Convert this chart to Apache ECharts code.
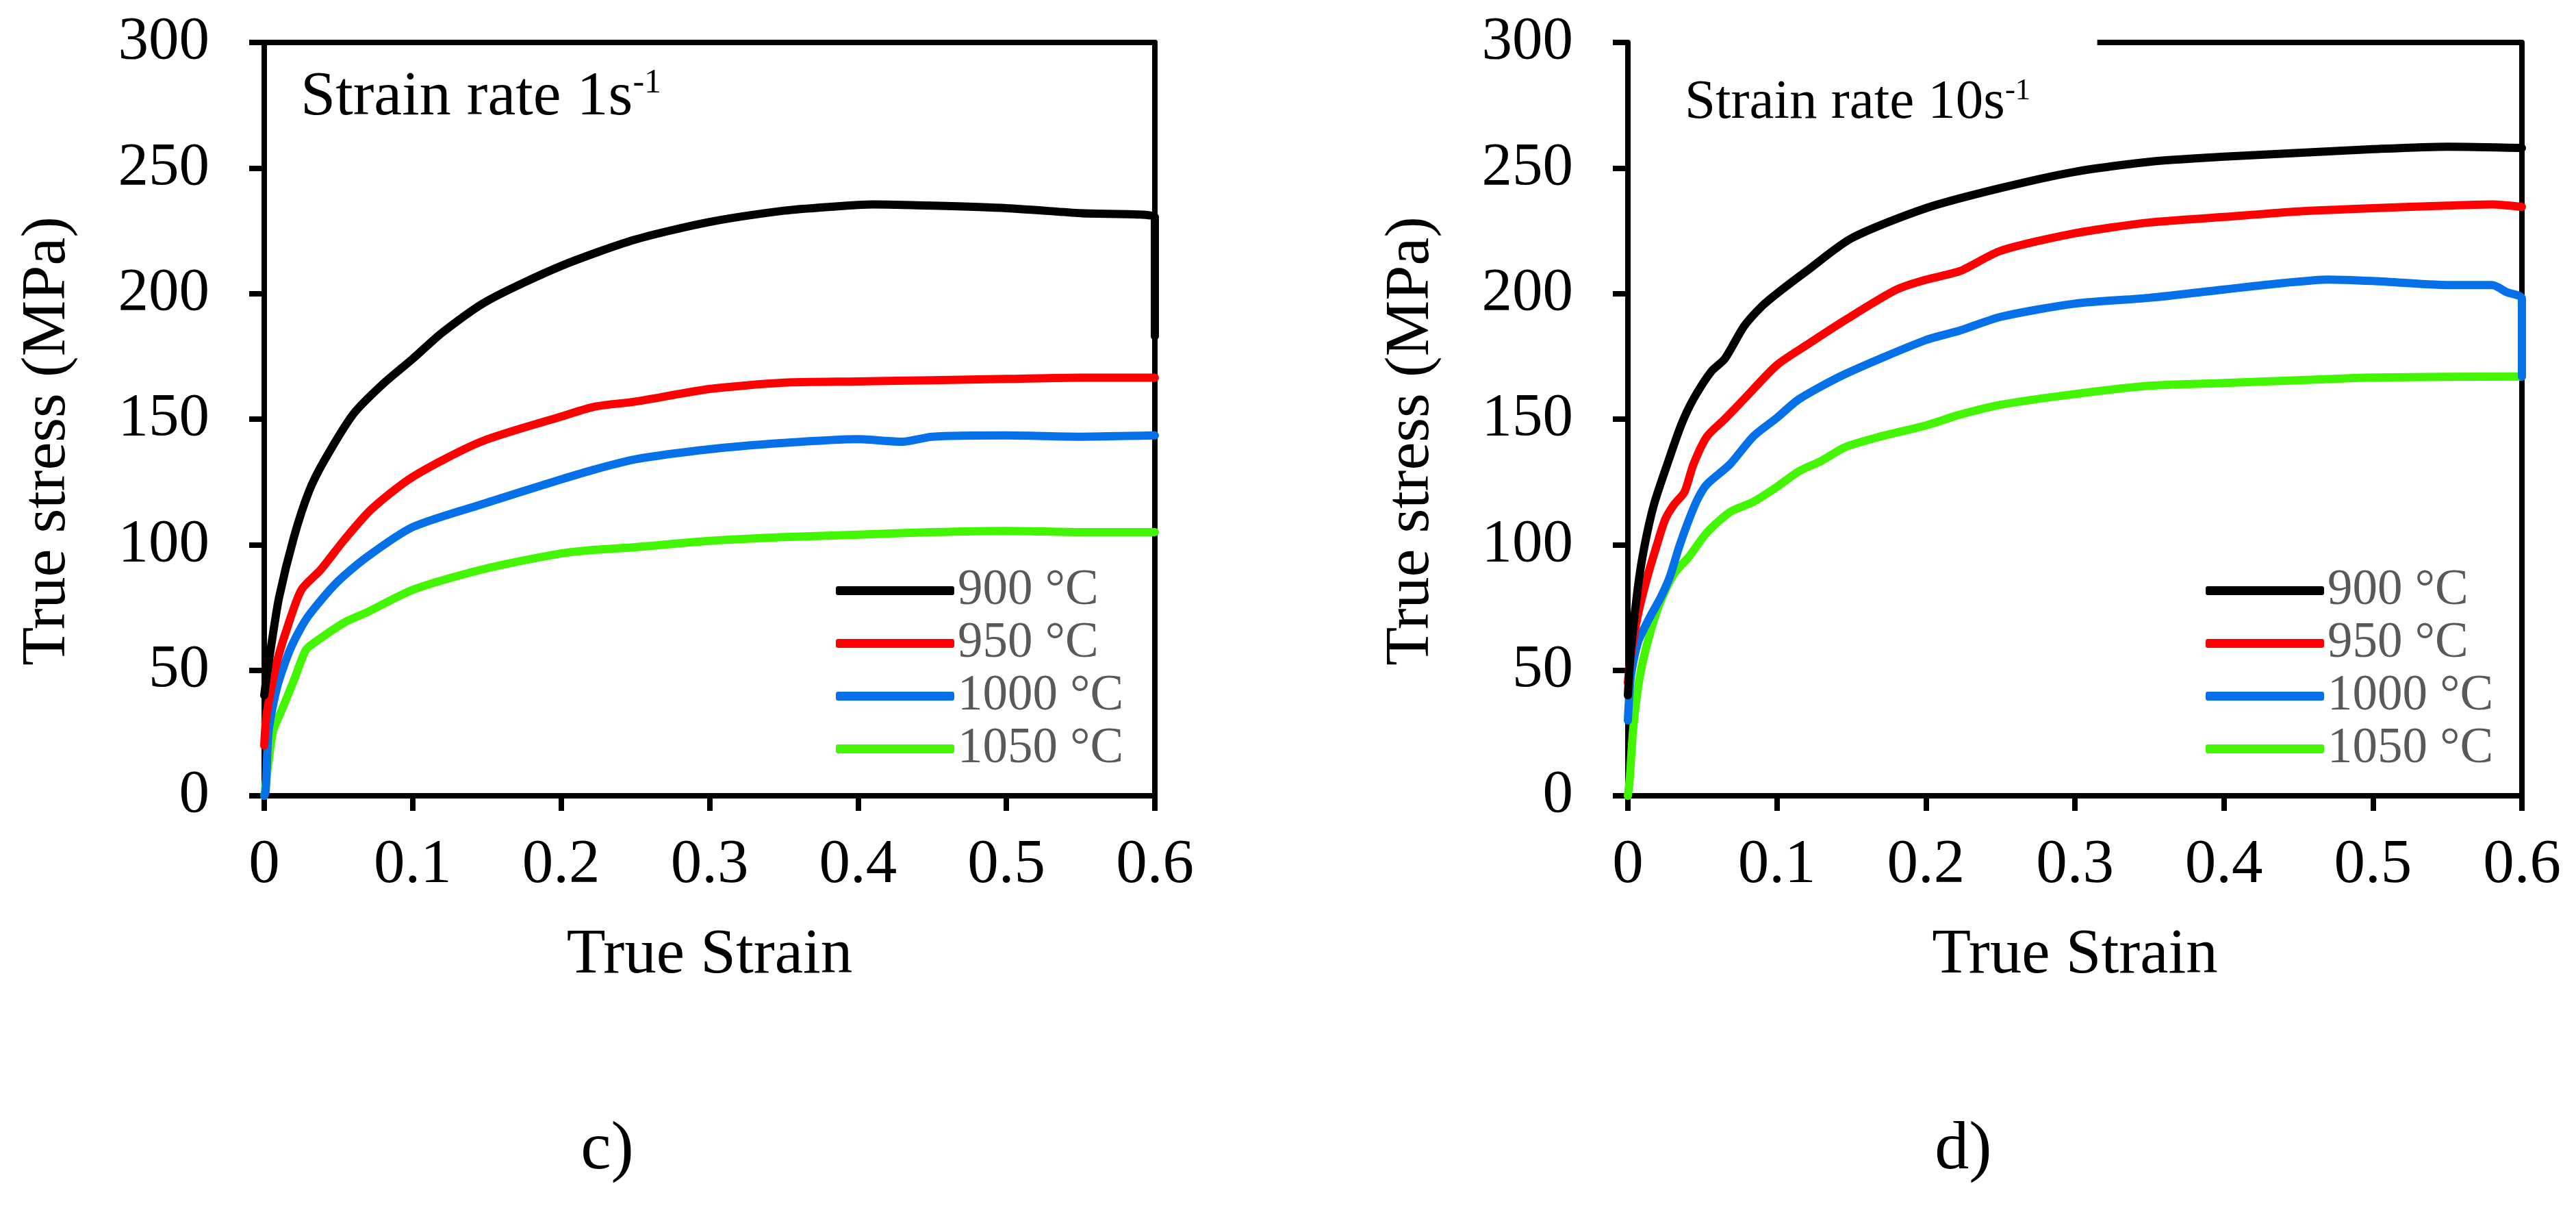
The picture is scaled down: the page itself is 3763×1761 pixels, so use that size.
<!DOCTYPE html>
<html>
<head>
<meta charset="utf-8">
<script src="https://cdn.jsdelivr.net/npm/echarts@6/dist/echarts.min.js"></script>
<style>
  html, body { margin: 0; padding: 0; background: #fff; }
  #chart { width: 3763px; height: 1761px; }
</style>
</head>
<body>
<div id="chart"></div>
<script>
// 1. data  (strain, stress MPa)
var legendNames = ['900 °C', '950 °C', '1000 °C', '1050 °C'];
var xTicks = [0, 0.1, 0.2, 0.3, 0.4, 0.5, 0.6];
var yTicks = [0, 50, 100, 150, 200, 250, 300];

// c) strain rate 1 s-1
var c900Strain = [0, 0.0015, 0.005, 0.01, 0.02, 0.03, 0.04, 0.06, 0.08, 0.1, 0.12, 0.15, 0.2, 0.25, 0.3, 0.35, 0.38, 0.41, 0.45, 0.5, 0.55, 0.6, 0.6];
var c900Stress = [40, 47, 61, 79, 103, 121, 133, 152, 164, 174, 184.5, 197, 211, 221.5, 228.5, 233, 234.5, 235.5, 235, 234, 232, 230.5, 183];
var c950Strain = [0, 0.0015, 0.008, 0.015, 0.025, 0.038, 0.054, 0.072, 0.1, 0.146, 0.2, 0.223, 0.25, 0.3, 0.35, 0.4, 0.45, 0.5, 0.55, 0.6];
var c950Stress = [20, 32, 52, 66, 82, 90, 102, 114, 127, 141, 151, 155, 157, 162, 164.5, 165, 165.5, 166, 166.5, 166.5];
var c1000Strain = [0, 0.001, 0.003, 0.009, 0.018, 0.029, 0.049, 0.069, 0.1, 0.146, 0.2, 0.223, 0.25, 0.3, 0.35, 0.4, 0.43, 0.45, 0.5, 0.55, 0.6];
var c1000Stress = [0, 2, 26, 44, 59, 71, 85, 95, 107, 116, 126, 130, 134, 138, 140.5, 142, 141, 143, 143.5, 143, 143.5];
var c1050Strain = [0, 0.001, 0.003, 0.006, 0.011, 0.02, 0.028, 0.035, 0.054, 0.069, 0.1, 0.146, 0.2, 0.223, 0.25, 0.3, 0.35, 0.4, 0.45, 0.5, 0.55, 0.6];
var c1050Stress = [0, 4.5, 14, 26, 33, 46, 58, 61.5, 69, 73, 82, 90, 96.5, 98, 99, 101.5, 103, 104, 105, 105.5, 105, 105];

// d) strain rate 10 s-1
var d900Strain = [0, 0.002, 0.0067, 0.011, 0.0175, 0.027, 0.036, 0.044, 0.056, 0.065, 0.078, 0.09, 0.1, 0.12, 0.15, 0.2, 0.25, 0.3, 0.35, 0.4, 0.45, 0.5, 0.55, 0.6];
var d900Stress = [40, 58, 83, 99, 116, 133, 148, 158, 169, 174, 187, 195, 200, 209, 222, 234, 242, 248.5, 252.5, 254.5, 256, 257.5, 258.5, 258];
var d950Strain = [0, 0.002, 0.0067, 0.013, 0.019, 0.025, 0.031, 0.038, 0.044, 0.053, 0.065, 0.078, 0.1, 0.12, 0.146, 0.18, 0.2, 0.223, 0.25, 0.3, 0.35, 0.4, 0.45, 0.5, 0.55, 0.58, 0.6];
var d950Stress = [45, 56, 72, 87, 99, 110, 116, 121, 132, 143, 150, 158, 171.5, 179.5, 189.5, 201.5, 205.5, 209, 217, 224, 228.3, 230.5, 232.7, 234, 235, 235.5, 234.5];
var d1000Strain = [0, 0.002, 0.0067, 0.0144, 0.022, 0.028, 0.0345, 0.041, 0.047, 0.053, 0.0685, 0.084, 0.1, 0.115, 0.146, 0.2, 0.223, 0.25, 0.3, 0.35, 0.4, 0.44, 0.47, 0.5, 0.55, 0.58, 0.59, 0.6, 0.6];
var d1000Stress = [30, 47.5, 61, 70.7, 79, 87, 99.3, 110, 118.4, 124, 132, 143, 150.5, 158, 168, 181.5, 185.3, 190.7, 196, 198.3, 201.6, 204.2, 205.6, 205, 203.4, 203.4, 200.5, 198, 167];
var d1050Strain = [0, 0.0012, 0.0036, 0.008, 0.0144, 0.022, 0.031, 0.041, 0.053, 0.0685, 0.084, 0.1, 0.115, 0.13, 0.146, 0.169, 0.2, 0.223, 0.25, 0.3, 0.35, 0.4, 0.45, 0.5, 0.6];
var d1050Stress = [0, 6.5, 27, 47.5, 63.8, 77.5, 88.4, 95.2, 104.8, 113, 117, 123, 129.3, 133.4, 138.9, 143, 147.5, 151.8, 155.7, 160, 163.3, 164.4, 165.5, 166.6, 167];

// partial top frame of panel d)
var dTopFrameStrain = [0.315, 0.6];

var colors = ['#000000', '#ff0000', '#0670e8', '#42f500'];
var font = "'Liberation Serif', 'Times New Roman', serif";

function pairs(xs, ys) {
  var out = [];
  for (var i = 0; i < xs.length; i++) {
    out.push([xs[i], ys[i]]);
  }
  return out;
}

// 2. axes
function xAxisFor(grid) {
  return {
    type: 'value', gridIndex: grid, min: xTicks[0], max: xTicks[xTicks.length - 1], interval: 0.1,
    axisLine: { show: true, lineStyle: { color: '#000', width: 8 } },
    axisTick: { show: true, inside: false, length: 22, lineStyle: { color: '#000', width: 8 } },
    axisLabel: {
      margin: 57, color: '#000', fontFamily: font, fontSize: 91,
      formatter: function (v) { return String(parseFloat(v.toFixed(1))); }
    },
    splitLine: { show: false },
    name: 'True Strain', nameLocation: 'middle', nameGap: 187,
    nameTextStyle: { color: '#000', fontFamily: font, fontSize: 93 }
  };
}
function yAxisFor(grid) {
  return {
    type: 'value', gridIndex: grid, min: yTicks[0], max: yTicks[yTicks.length - 1], interval: 50,
    axisLine: { show: true, lineStyle: { color: '#000', width: 8 } },
    axisTick: { show: true, inside: false, length: 22, lineStyle: { color: '#000', width: 8 } },
    axisLabel: { margin: 80, color: '#000', fontFamily: font, fontSize: 89 },
    splitLine: { show: false },
    name: 'True stress (MPa)', nameLocation: 'middle', nameGap: 270,
    // title sits a little below the middle of the axis
    nameTextStyle: { color: '#000', fontFamily: font, fontSize: 92, padding: [0, 64, 0, 0] }
  };
}
function frameAxis(grid, pos, max) {
  return {
    type: 'value', gridIndex: grid, position: pos, min: 0, max: max,
    axisLine: { show: true, onZero: false, lineStyle: { color: '#000', width: 8 } },
    axisTick: { show: false }, axisLabel: { show: false }, splitLine: { show: false }
  };
}

var xAxes = [xAxisFor(0), xAxisFor(1), frameAxis(0, 'top', 0.6)];
var yAxes = [yAxisFor(0), yAxisFor(1), frameAxis(0, 'right', 300), frameAxis(1, 'right', 300)];

// 3. series
var cSets = [[c900Strain, c900Stress], [c950Strain, c950Stress], [c1000Strain, c1000Stress], [c1050Strain, c1050Stress]];
var dSets = [[d900Strain, d900Stress], [d950Strain, d950Stress], [d1000Strain, d1000Stress], [d1050Strain, d1050Stress]];
var series = [];
[cSets, dSets].forEach(function (sets, g) {
  for (var i = 0; i < sets.length; i++) {
    series.push({
      name: legendNames[i], type: 'line', xAxisIndex: g, yAxisIndex: g,
      data: pairs(sets[i][0], sets[i][1]),
      showSymbol: false, symbol: 'none', clip: false, smooth: 0.25,
      lineStyle: { color: colors[i], width: 12, join: 'round', cap: 'round' },
      itemStyle: { color: colors[i] },
      z: 5 - i
    });
  }
});
// top frame piece of d) through the axes
series[4].markLine = {
  silent: true, symbol: 'none', label: { show: false },
  lineStyle: { color: '#000', width: 8, type: 'solid' },
  data: [[{ coord: [dTopFrameStrain[0], 300] }, { coord: [dTopFrameStrain[1], 300] }]]
};

function legendAt(left) {
  return {
    data: legendNames, orient: 'vertical', left: left, top: 819,
    icon: 'roundRect', itemWidth: 173, itemHeight: 13, itemGap: 0, itemTextGap: 12,
    textStyle: { color: '#595959', fontFamily: font, fontSize: 73, lineHeight: 77 },
    selectedMode: false
  };
}

function rateLabel(x, y, main, size, supSize, supLine) {
  return {
    type: 'text', x: x, y: y, silent: true,
    style: {
      text: '{a|' + main + '}{b|-1}',
      textVerticalAlign: 'middle',
      rich: {
        a: { fontFamily: font, fontSize: size, lineHeight: size, fill: '#000' },
        b: { fontFamily: font, fontSize: supSize, lineHeight: supLine, fill: '#000', verticalAlign: 'top' }
      }
    }
  };
}

var chart = echarts.init(document.getElementById('chart'), null, { renderer: 'canvas' });
chart.setOption({
  backgroundColor: '#ffffff',
  animation: false,
  grid: [
    { left: 386, top: 62, width: 1301, height: 1100, containLabel: false },
    { left: 2378, top: 62, width: 1306, height: 1100, containLabel: false }
  ],
  xAxis: xAxes,
  yAxis: yAxes,
  legend: [legendAt(1216), legendAt(3217)],
  series: series,
  graphic: [
    rateLabel(439, 143, 'Strain rate 1s', 92, 50, 70),
    rateLabel(2461, 151, 'Strain rate 10s', 81, 45, 44),
    { type: 'text', x: 887, y: 1680, silent: true,
      style: { text: 'c)', fontFamily: font, fontSize: 100, fill: '#000', textAlign: 'center', textVerticalAlign: 'middle' } },
    { type: 'text', x: 2868, y: 1680, silent: true,
      style: { text: 'd)', fontFamily: font, fontSize: 100, fill: '#000', textAlign: 'center', textVerticalAlign: 'middle' } }
  ]
});
</script>
</body>
</html>
